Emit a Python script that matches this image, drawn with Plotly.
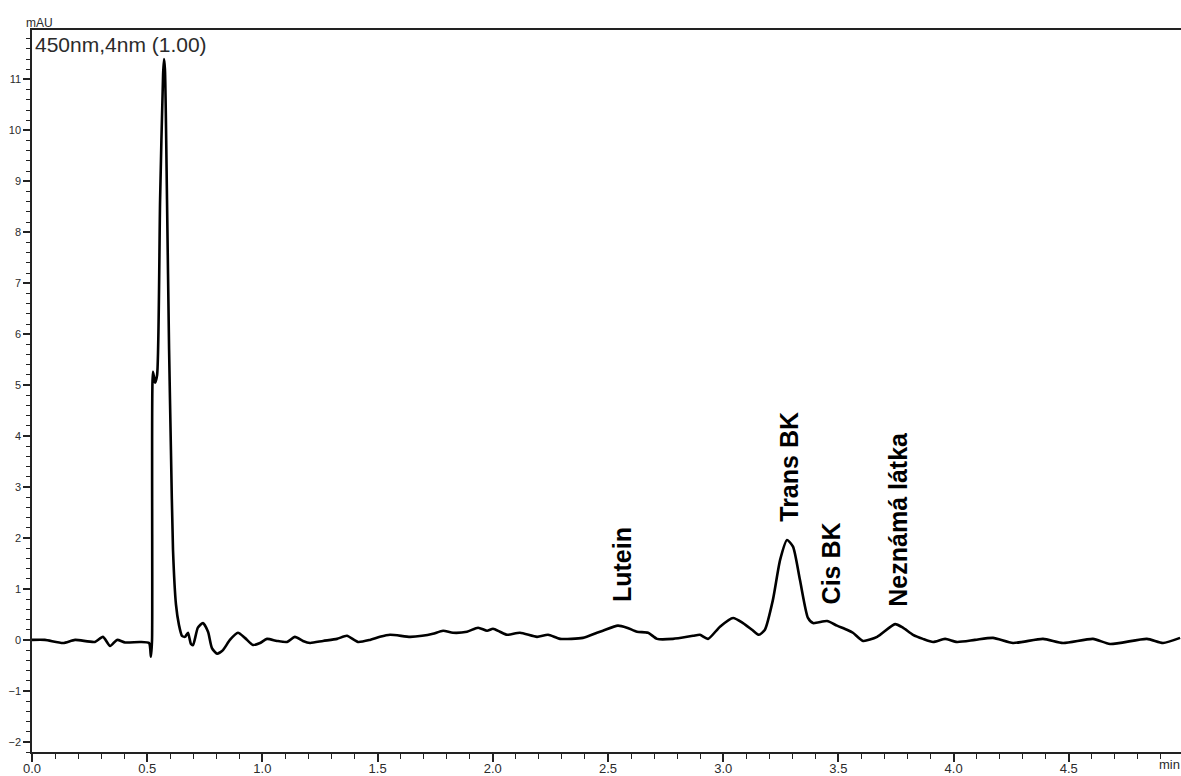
import plotly.graph_objects as go

# Retention time (min) and detector response (mAU) of the 450 nm trace
time_min = [
    0.000, 0.056, 0.135, 0.187, 0.273, 0.308, 0.339, 0.369, 0.404, 0.469,
    0.508, 0.516, 0.521, 0.525, 0.534, 0.543, 0.556, 0.569, 0.573, 0.577,
    0.586, 0.595, 0.603, 0.612, 0.625, 0.638, 0.651, 0.664, 0.677, 0.690,
    0.699, 0.720, 0.742, 0.764, 0.781, 0.803, 0.829, 0.859, 0.894, 0.924,
    0.959, 0.990, 1.020, 1.063, 1.107, 1.141, 1.176, 1.207, 1.263, 1.324,
    1.367, 1.415, 1.467, 1.510, 1.554, 1.641, 1.693, 1.740, 1.784, 1.827,
    1.888, 1.936, 1.975, 2.001, 2.031, 2.062, 2.118, 2.192, 2.240, 2.292,
    2.391, 2.452, 2.478, 2.543, 2.582, 2.626, 2.674, 2.713, 2.782, 2.869,
    2.899, 2.934, 2.986, 3.043, 3.086, 3.125, 3.155, 3.181, 3.216, 3.247,
    3.277, 3.303, 3.333, 3.368, 3.390, 3.451, 3.494, 3.537, 3.563, 3.607,
    3.668, 3.746, 3.780, 3.824, 3.867, 3.911, 3.963, 4.015, 4.093, 4.171,
    4.258, 4.388, 4.475, 4.605, 4.679, 4.839, 4.909, 4.983,
]
signal_mau = [
    0.00, 0.00, -0.06, 0.00, -0.04, 0.06, -0.12, 0.00, -0.05, -0.04,
    -0.06, -0.33, 0.00, 5.26, 5.05, 5.20, 8.64, 11.10, 11.40, 11.20,
    8.64, 5.70, 3.73, 1.77, 0.69, 0.29, 0.08, 0.06, 0.14, -0.08,
    -0.10, 0.24, 0.33, 0.16, -0.16, -0.27, -0.20, 0.00, 0.14, 0.04,
    -0.10, -0.06, 0.02, -0.02, -0.04, 0.06, -0.02, -0.06, -0.02, 0.02,
    0.08, -0.04, 0.00, 0.06, 0.10, 0.06, 0.08, 0.12, 0.18, 0.14,
    0.16, 0.24, 0.18, 0.22, 0.16, 0.10, 0.14, 0.06, 0.10, 0.02,
    0.04, 0.14, 0.18, 0.28, 0.24, 0.16, 0.14, 0.02, 0.02, 0.08,
    0.10, 0.02, 0.26, 0.43, 0.33, 0.20, 0.10, 0.20, 0.79, 1.57,
    1.96, 1.83, 1.18, 0.43, 0.33, 0.37, 0.28, 0.20, 0.14, -0.02,
    0.06, 0.31, 0.24, 0.10, 0.02, -0.04, 0.02, -0.04, 0.00, 0.04,
    -0.06, 0.02, -0.06, 0.02, -0.08, 0.02, -0.06, 0.04,
]

# Peak names with the position of each label (time, mAU)
peak_names = ["Lutein", "Trans BK", "Cis BK", "Neznámá látka"]
label_time = [2.561, 3.286, 3.472, 3.759]
label_mau = [1.47, 3.40, 1.50, 2.36]

x_ticks = [0.0, 0.5, 1.0, 1.5, 2.0, 2.5, 3.0, 3.5, 4.0, 4.5]
y_ticks = list(range(-2, 12))

INK = "#2b2b2b"
FONT = "Liberation Sans, Arial, sans-serif"

fig = go.Figure()
fig.add_trace(go.Scatter(
    x=time_min, y=signal_mau, mode="lines",
    line=dict(color="black", width=2.6, shape="spline", smoothing=0.6),
    hoverinfo="skip", showlegend=False,
))

for name, tx, ty in zip(peak_names, label_time, label_mau):
    fig.add_annotation(
        x=tx, y=ty, xref="x", yref="y", text=f"<b>{name}</b>",
        textangle=-90, showarrow=False, xanchor="center", yanchor="middle",
        font=dict(family=FONT, size=25, color="black"),
    )

fig.add_annotation(
    x=0.001, y=1.0, xref="paper", yref="paper", text="450nm,4nm (1.00)",
    showarrow=False, xanchor="left", yanchor="top", yshift=-1,
    font=dict(family=FONT, size=21, color=INK),
)
fig.add_annotation(
    x=-0.007, y=1.0, xref="paper", yref="paper", text="mAU",
    showarrow=False, xanchor="left", yanchor="bottom", yshift=-2,
    font=dict(family=FONT, size=12, color=INK),
)
fig.add_annotation(
    x=0.979, y=0.0, xref="paper", yref="paper", text="min",
    showarrow=False, xanchor="left", yanchor="top", yshift=-3,
    font=dict(family=FONT, size=13, color=INK),
)

fig.update_layout(
    width=1181, height=776,
    margin=dict(l=32, r=0, t=30, b=19, pad=0),
    paper_bgcolor="white", plot_bgcolor="white",
    font=dict(family=FONT, color=INK),
    xaxis=dict(
        range=[0, 4.987], tickvals=x_ticks, tickformat=".1f",
        showgrid=False, zeroline=False, showline=True, linecolor="#222",
        linewidth=1.5, mirror=True, ticks="outside", ticklen=8, tickwidth=1.5,
        tickcolor="#222", tickfont=dict(size=13, color=INK),
        ticklabelstandoff=-4,
        minor=dict(dtick=0.1, ticks="outside", ticklen=5, tickwidth=1.2,
                   tickcolor="#222", showgrid=False),
    ),
    yaxis=dict(
        range=[-2.20, 11.97], tickvals=y_ticks,
        showgrid=False, zeroline=False, showline=True, linecolor="#222",
        linewidth=1.5, ticks="outside", ticklen=7, tickwidth=1.5,
        tickcolor="#222", tickfont=dict(size=11, color=INK),
        minor=dict(dtick=0.2, ticks="outside", ticklen=4, tickwidth=1.2,
                   tickcolor="#222", showgrid=False),
    ),
)

fig.write_html("out.html")
